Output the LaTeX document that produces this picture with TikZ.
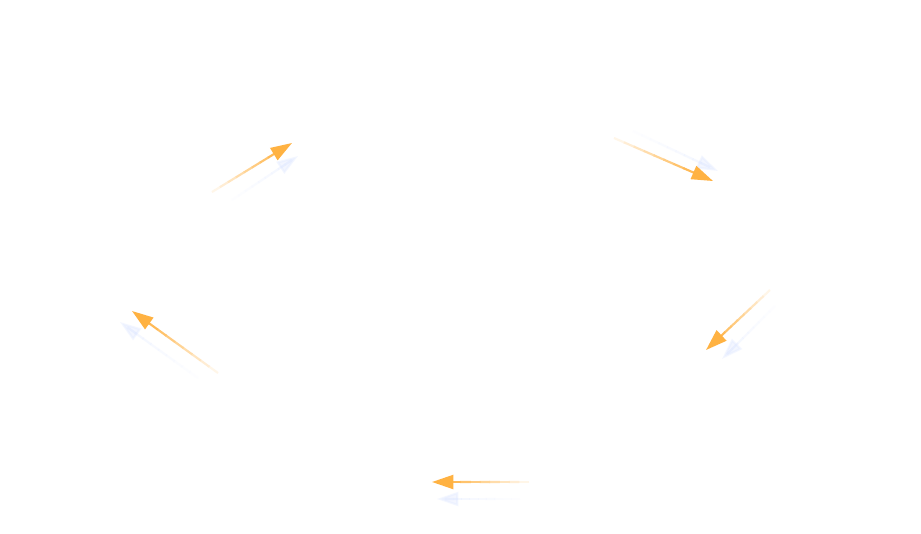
\documentclass[tikz,border=0pt]{standalone}
\usetikzlibrary{arrows.meta,calc}
\definecolor{flow}{RGB}{255,178,66}
\definecolor{glow}{RGB}{226,234,255}
\tikzset{
        x=0.75pt, y=-0.75pt,
        shaft/.style={line width=1.6pt, line cap=butt},
        tip/.style={-{Triangle[length=16pt,width=10.5pt]}},
        ghost/.style={opacity=0.4}
          }
% shaft fades from the tail (#1) to the head (#2), in colour #3
\newcommand{\fadearrow}[3]{%
  \foreach \i in {0,...,8}{
    \pgfmathsetmacro{\ta}{\i/10}
    \pgfmathsetmacro{\tb}{(\i+1)/10+0.01}
    \pgfmathtruncatemacro{\mix}{12+\i*11}
    \draw[shaft, #3!\mix!white] ($(#1)!\ta!(#2)$) -- ($(#1)!\tb!(#2)$);
  }
  \draw[shaft, tip, #3] ($(#1)!0.9!(#2)$) -- (#2);
}

\begin{document}
\begin{tikzpicture}
            \fill[white] (0,0) rectangle (921,533);
            \useasboundingbox (0,0) rectangle (921,533);
            % arrow ends
            \coordinate (a1t) at (212,192); \coordinate (a1h) at (292,143);
            \coordinate (a2t) at (614,138); \coordinate (a2h) at (713,181);
            \coordinate (a3t) at (770,290); \coordinate (a3h) at (706,350);
            \coordinate (a4t) at (529,482); \coordinate (a4h) at (432,482);
            \coordinate (a5t) at (218,373); \coordinate (a5h) at (132,311);
            % shadow ends
            \coordinate (g1t) at (232,200); \coordinate (g1h) at (298,156);
            \coordinate (g2t) at (633,131); \coordinate (g2h) at (718,171);
            \coordinate (g3t) at (775,306); \coordinate (g3h) at (722,359);
            \coordinate (g4t) at (520,499); \coordinate (g4h) at (437,499);
            \coordinate (g5t) at (198,378); \coordinate (g5h) at (120,322);
            \begin{scope}[ghost]
              \fadearrow{g1t}{g1h}{glow}
              \fadearrow{g2t}{g2h}{glow}
              \fadearrow{g3t}{g3h}{glow}
              \fadearrow{g4t}{g4h}{glow}
              \fadearrow{g5t}{g5h}{glow}
            \end{scope}
            \fadearrow{a1t}{a1h}{flow}
            \fadearrow{a2t}{a2h}{flow}
            \fadearrow{a3t}{a3h}{flow}
            \fadearrow{a4t}{a4h}{flow}
            \fadearrow{a5t}{a5h}{flow}
\end{tikzpicture}
\end{document}
